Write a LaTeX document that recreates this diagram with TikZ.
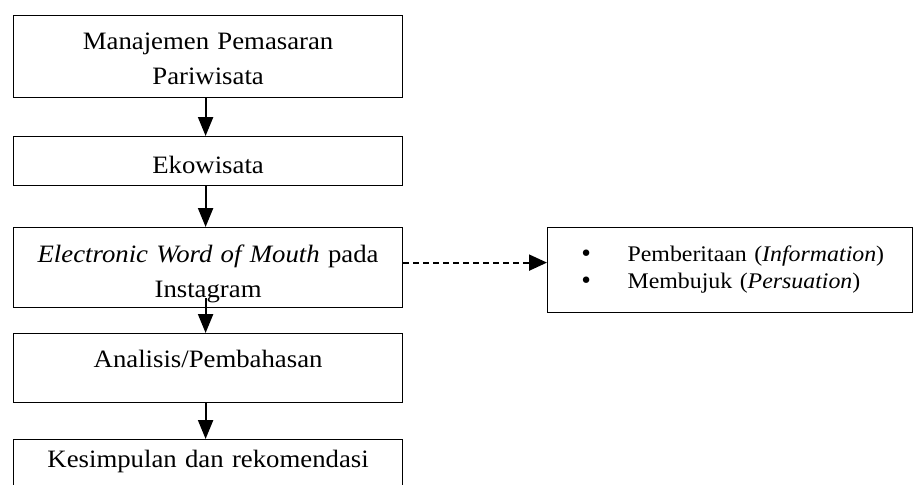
\documentclass[tikz,border=0pt]{standalone}
\usepackage{fontspec}
\setmainfont{Liberation Serif}[FakeStretch=1.07]
\newfontfamily\bulfont{DejaVu Sans}
\usetikzlibrary{arrows.meta}
\newcommand{\bigbul}{{\bulfont •}}
\begin{document}
\begin{tikzpicture}[x=1pt,y=-1pt,
  box/.style={draw, line width=1.2pt, inner sep=0pt, text width=389pt, align=center,
    anchor=north west, font=\fontsize{25}{35}\selectfont},
  sidebox/.style={draw, line width=1.2pt, inner sep=0pt, text width=365pt, align=left,
    anchor=north west, font=\fontsize{22.3}{27}\selectfont},
  arr/.style={line width=2.2pt, -{Triangle[width=15pt,length=19pt]}},
  dasharr/.style={line width=2pt, dash pattern=on 6pt off 4pt, -{Triangle[width=16pt,length=18pt]}}]
\clip (0,0) rectangle (914,485);
\node[box, text height=34pt, text depth=48pt] (b1) at (13,15) {Manajemen Pemasaran\\Pariwisata};
\node[box, text height=37pt, text depth=12pt] (b2) at (13,136) {Ekowisata};
\node[box, text height=35pt, text depth=45pt] (b3) at (13,227) {\textit{Electronic Word of Mouth} pada\\Instagram};
\node[box, text height=34pt, text depth=35pt] (b4) at (13,333) {Analisis/Pembahasan};
\node[box, text height=28pt, text depth=60pt] (b5) at (13,439) {Kesimpulan dan rekomendasi};
\node[sidebox, text height=34pt, text depth=51pt] (rb) at (547,227)
  {\hspace*{32pt}\makebox[48pt][l]{\bigbul}Pemberitaan (\textit{Information})\\
   \hspace*{32pt}\makebox[48pt][l]{\bigbul}Membujuk (\textit{Persuation})};
\draw[arr] ([xshift=-2.5pt]b1.south) -- ([xshift=-2.5pt]b2.north);
\draw[arr] ([xshift=-2.5pt]b2.south) -- ([xshift=-2.5pt]b3.north);
\draw[arr] ([xshift=-2.5pt,yshift=10pt]b3.south) -- ([xshift=-2.5pt]b4.north);
\draw[arr] ([xshift=-2.5pt]b4.south) -- ([xshift=-2.5pt]b5.north);
\coordinate (ds) at ([yshift=5pt]b3.east);
\draw[dasharr] (ds) -- (ds -| rb.west);
\end{tikzpicture}
\end{document}
